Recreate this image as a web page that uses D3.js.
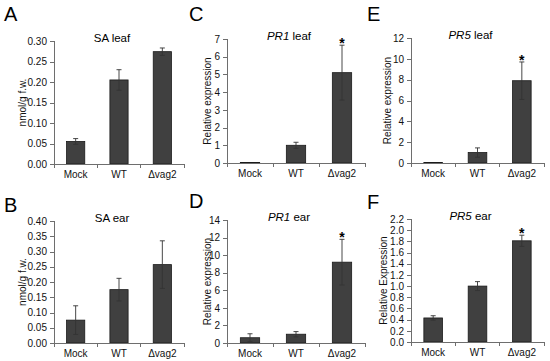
<!doctype html>
<html lang="en">
<head>
<meta charset="UTF-8">
<title>SA and PR gene expression</title>
<script src="https://d3js.org/d3.v7.min.js"></script>
<style>
body { margin: 0; background: #ffffff; font-family: "Liberation Sans", Arial, sans-serif; }
svg { display: block; }
.axis path, .axis line { stroke: #6e6e6e; shape-rendering: crispEdges; }
.axis text { font-family: "Liberation Sans", Arial, sans-serif; fill: #111; }
</style>
</head>
<body>
<div id="plot"></div>
<script>

var width = 550;
var height = 361;

// data
var categories = ["Mock", "WT", "\u0394vag2"];

var saLeaf = [0.055, 0.205, 0.274];
var saLeafErr = [0.007, 0.025, 0.009];
var saEar = [0.075, 0.175, 0.257];
var saEarErr = [0.047, 0.037, 0.078];

var pr1Leaf = [0.03, 1.0, 5.1];
var pr1LeafErr = [0, 0.17, 1.55];
var pr1Ear = [0.6, 1.0, 9.2];
var pr1EarErr = [0.45, 0.3, 2.6];

var pr5Leaf = [0.05, 1.0, 7.9];
var pr5LeafErr = [0, 0.45, 1.8];
var pr5Ear = [0.43, 1.0, 1.81];
var pr5EarErr = [0.04, 0.08, 0.1];

var sigNone = [false, false, false];
var sigDelta = [false, false, true];

var ticksSA_leaf = [0, 0.05, 0.10, 0.15, 0.20, 0.25, 0.30];
var ticksSA_ear = [0, 0.05, 0.10, 0.15, 0.20, 0.25, 0.30, 0.35, 0.40];
var ticksPR1_leaf = [0, 1, 2, 3, 4, 5, 6, 7];
var ticksPR1_ear = [0, 2, 4, 6, 8, 10, 12, 14];
var ticksPR5_leaf = [0, 2, 4, 6, 8, 10, 12];
var ticksPR5_ear = [0, 0.2, 0.4, 0.6, 0.8, 1.0, 1.2, 1.4, 1.6, 1.8, 2.0, 2.2];

var svg = d3.select("#plot").append("svg")
	.attr("width", width)
	.attr("height", height);

var panels = [
	{ letter: "A", gene: "", title: "SA leaf", ylab: "nmol/g f.w.", vals: saLeaf, err: saLeafErr, sig: sigNone, ticks: ticksSA_leaf, fmt: ".2f",
	  x0: 54, x1: 184, y0: 41, y1: 164, lx: 4, ly: 21, tx: 22 },
	{ letter: "B", gene: "", title: "SA ear", ylab: "nmol/g f.w.", vals: saEar, err: saEarErr, sig: sigNone, ticks: ticksSA_ear, fmt: ".2f",
	  x0: 54, x1: 184, y0: 221, y1: 343, lx: 4, ly: 212, tx: 22 },
	{ letter: "C", gene: "PR1", title: " leaf", ylab: "Relative expression", vals: pr1Leaf, err: pr1LeafErr, sig: sigDelta, ticks: ticksPR1_leaf, fmt: "d",
	  x0: 227, x1: 365, y0: 39, y1: 163, lx: 189, ly: 21, tx: 207 },
	{ letter: "D", gene: "PR1", title: " ear", ylab: "Relative expression", vals: pr1Ear, err: pr1EarErr, sig: sigDelta, ticks: ticksPR1_ear, fmt: "d",
	  x0: 227, x1: 365, y0: 220, y1: 343, lx: 189, ly: 208, tx: 207 },
	{ letter: "E", gene: "PR5", title: " leaf", ylab: "Relative expression", vals: pr5Leaf, err: pr5LeafErr, sig: sigDelta, ticks: ticksPR5_leaf, fmt: "d",
	  x0: 411, x1: 544, y0: 38, y1: 163, lx: 367, ly: 21, tx: 387 },
	{ letter: "F", gene: "PR5", title: " ear", ylab: "Relative Expression", vals: pr5Ear, err: pr5EarErr, sig: sigDelta, ticks: ticksPR5_ear, fmt: ".1f",
	  x0: 411, x1: 544, y0: 219, y1: 342, lx: 367, ly: 209, tx: 383 }
];

panels.forEach(function (p) {
	var g = svg.append("g");

	var xScale = d3.scaleBand().domain(categories)
		.range([p.x0, p.x1])
		.paddingInner(0.58)
		.paddingOuter(0.29);

	var yMax = p.ticks[p.ticks.length - 1];
	var yScale = d3.scaleLinear().domain([0, yMax])
		.range([p.y1, p.y0]);

	// panel letter
	g.append("text")
		.attr("x", p.lx)
		.attr("y", p.ly)
		.style("font-size", "20px")
		.style("fill", "#000")
		.text(p.letter);

	// title
	var t = g.append("text")
		.attr("x", (p.x0 + p.x1) / 2 - 7)
		.attr("y", p.y0 + 1)
		.attr("text-anchor", "middle")
		.style("font-size", "11.5px")
		.style("fill", "#000");
	if (p.gene) {
		t.append("tspan").style("font-style", "italic").text(p.gene);
	}
	t.append("tspan").text(p.title);

	// y axis
	var yAxis = d3.axisLeft(yScale)
		.tickValues(p.ticks)
		.tickFormat(d3.format(p.fmt))
		.tickSizeOuter(0)
		.tickSize(4)
		.tickPadding(3);

	var ya = g.append("g")
		.attr("class", "axis")
		.attr("transform", "translate(" + p.x0 + ",0)")
		.call(yAxis);
	ya.selectAll("text").style("font-size", "10px");

	// y axis title
	g.append("text")
		.attr("transform", "translate(" + p.tx + "," + ((p.y0 + p.y1) / 2) + ") rotate(-90)")
		.attr("text-anchor", "middle")
		.attr("dy", "0.35em")
		.style("font-size", "10px")
		.style("fill", "#111")
		.text(p.ylab);

	// bars
	g.selectAll("rect.bar").data(p.vals).enter().append("rect")
		.attr("class", "bar")
		.attr("x", function (d, i) { return xScale(categories[i]); })
		.attr("y", function (d) { return yScale(d); })
		.attr("width", xScale.bandwidth())
		.attr("height", function (d) { return yScale(0) - yScale(d); })
		.style("fill", "#404040")
		.style("stroke", "#1a1a1a")
		.style("stroke-width", 0.8);

	// error bars
	p.vals.forEach(function (d, i) {
		var e = p.err[i];
		if (e <= 0) return;
		var cx = xScale(categories[i]) + xScale.bandwidth() / 2;
		var top = yScale(d + e);
		var bot = yScale(Math.max(0, d - e));
		g.append("line")
			.attr("x1", cx).attr("x2", cx)
			.attr("y1", top).attr("y2", bot)
			.style("stroke", "#333").style("stroke-width", 0.9);
		[top, bot].forEach(function (yy) {
			g.append("line")
				.attr("x1", cx - 2.5).attr("x2", cx + 2.5)
				.attr("y1", yy).attr("y2", yy)
				.style("stroke", "#333").style("stroke-width", 0.9);
		});
		if (p.sig[i]) {
			g.append("text")
				.attr("x", cx)
				.attr("y", top + 3)
				.attr("text-anchor", "middle")
				.style("font-size", "14px")
				.style("font-weight", "bold")
				.style("fill", "#000")
				.text("*");
		}
	});

	// x axis with ticks at category boundaries
	var xa = g.append("g").attr("class", "axis");
	xa.append("line")
		.attr("x1", p.x0).attr("x2", p.x1)
		.attr("y1", p.y1).attr("y2", p.y1);
	for (var k = 0; k <= categories.length; k++) {
		var bx = p.x0 + k * (p.x1 - p.x0) / categories.length;
		xa.append("line")
			.attr("x1", bx).attr("x2", bx)
			.attr("y1", p.y1).attr("y2", p.y1 + 4);
	}
	categories.forEach(function (c) {
		xa.append("text")
			.attr("x", xScale(c) + xScale.bandwidth() / 2)
			.attr("y", p.y1 + 14)
			.attr("text-anchor", "middle")
			.style("font-size", "10px")
			.text(c);
	});
});

</script>
</body>
</html>
